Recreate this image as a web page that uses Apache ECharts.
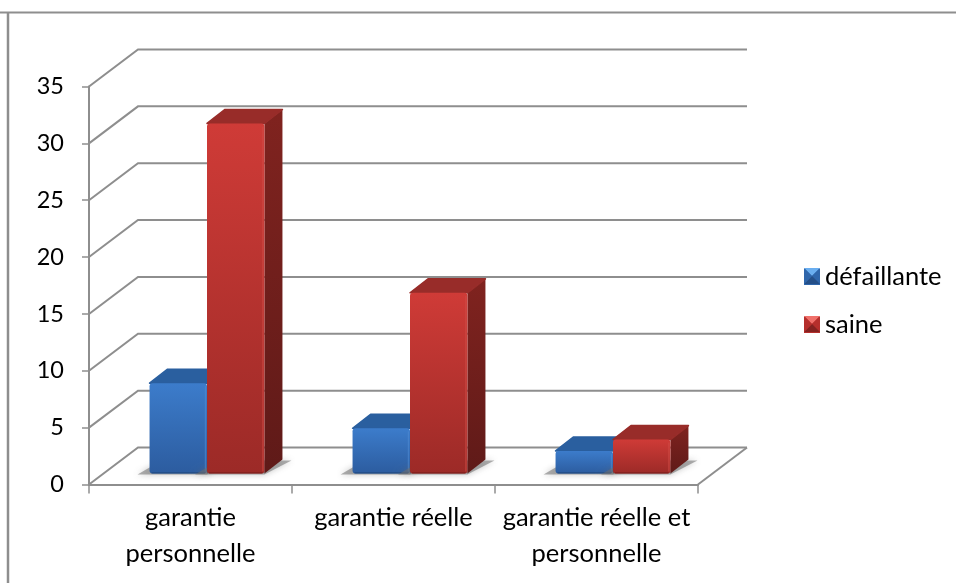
<!DOCTYPE html>
<html>
<head>
<meta charset="utf-8">
<style>html,body{margin:0;padding:0;background:#fff}#chart{width:956px;height:583px}</style>
<script src="https://cdn.jsdelivr.net/npm/echarts@6/dist/echarts.min.js"></script>
</head>
<body>
<div id="chart"></div>
<script>
// Guarantee types and the number of firms in each group
const categories = ['garantie\npersonnelle', 'garantie réelle', 'garantie réelle et\npersonnelle'];
const defaillante = [8, 4, 2];
const saine = [31, 16, 3];
const valueTicks = [0, 5, 10, 15, 20, 25, 30, 35];

// Oblique projection: how far the back wall and the bars sit behind the axis plane
const WALL_DX = 49, WALL_DY = -37;
const BAR_DX = 16.5, BAR_DY = -11;
const BAR_DEPTH_X = 18, BAR_DEPTH_Y = -14;
const BAR_BAND = 0.283;
const BAR_RISE = 0.993;   // foreshortening of heights in the bars' depth plane
const GRID_COLOR = '#8e8e8e';
const FONT = 'Lato';
const WORD_SIZE = 25.5;
const DIGIT_SIZE = 23.5;

const grad = (a, b) => ({ type: 'linear', x: 0, y: 0, x2: 0, y2: 1, colorStops: [{ offset: 0, color: a }, { offset: 1, color: b }] });

const palette = {
  blue: { front: ['#3c7ccb', '#2c5c9f'], top: '#2a5f9f', side: ['#234f86', '#1d4270'], edge: '#4f8ad2', dark: '#214a80' },
  red: { front: ['#cf3b37', '#9c2a27'], top: '#982c29', side: ['#80231f', '#5f1a18'], edge: '#d24d47', dark: '#7e201d' }
};

// Back wall and floor: one zig-zag grid line per value tick, plus the floor's right edge
function renderWall(params, api) {
  const v = api.value(0);
  const f = api.coord([0, v]);
  const band = api.size([1, 0])[0];
  const xLeft = f[0] - band / 2;
  const lineStyle = { stroke: GRID_COLOR, lineWidth: 2, fill: null };
  const children = [{
    type: 'polyline',
    shape: { points: [[xLeft, f[1]], [xLeft + WALL_DX, f[1] + WALL_DY], [xLeft + band * categories.length + WALL_DX, f[1] + WALL_DY]] },
    style: lineStyle
  }];
  if (v === 0) {
    const xRight = xLeft + band * categories.length;
    children.push({
      type: 'line',
      shape: { x1: xRight, y1: f[1], x2: xRight + WALL_DX, y2: f[1] + WALL_DY },
      style: lineStyle
    });
  }
  return { type: 'group', children };
}

// A bar drawn as a box: floor shadow, right face, top face and front face with soft edges
function boxRenderer(colors, seriesSide) {
  return function (params, api) {
    const cat = api.value(0);
    const top = api.coord([cat, api.value(1)]);
    const base = api.coord([cat, 0]);
    const band = api.size([1, 0])[0];
    const w = band * BAR_BAND;
    const cx = top[0] + BAR_DX;
    const x0 = seriesSide < 0 ? cx - w : cx;
    const x1 = x0 + w;
    const yB = base[1] + BAR_DY;
    const yT = yB - (base[1] - top[1]) * BAR_RISE;
    const dx = BAR_DEPTH_X, dy = BAR_DEPTH_Y;
    const children = [
      {
        type: 'polygon',
        shape: { points: [[x0 - 12, yB + 1], [x1, yB + 1], [x1 + dx + 9, yB + dy + 1], [x1, yB + dy + 1], [x0, yB - 6]] },
        style: { fill: 'rgba(110,110,110,0.55)', shadowBlur: 6, shadowColor: 'rgba(110,110,110,0.7)' }
      },
      {
        type: 'polygon',
        shape: { points: [[x1, yT], [x1 + dx, yT + dy], [x1 + dx, yB + dy], [x1, yB]] },
        style: { fill: grad(colors.side[0], colors.side[1]) }
      },
      {
        type: 'polygon',
        shape: { points: [[x0, yT], [x0 + dx, yT + dy], [x1 + dx, yT + dy], [x1, yT]] },
        style: { fill: colors.top, stroke: colors.top, lineWidth: 1.5, lineJoin: 'round' }
      },
      {
        type: 'rect',
        shape: { x: x0, y: yT, width: w, height: yB - yT, r: 3 },
        style: { fill: grad(colors.front[0], colors.front[1]) }
      },
      {
        type: 'line',
        shape: { x1: x1 - 1.5, y1: yT + 3, x2: x1 - 1.5, y2: yB - 2 },
        style: { stroke: colors.edge, lineWidth: 1.5, opacity: 0.6 }
      },
      {
        type: 'line',
        shape: { x1: x0 + 2, y1: yB - 0.8, x2: x1 - 2, y2: yB - 0.8 },
        style: { stroke: colors.dark, lineWidth: 1.5, opacity: 0.7 }
      }
    ];
    return { type: 'group', children };
  };
}

// Bevelled legend swatch: a shaded square with lit top and dark bottom facets
function swatch(x, y, s, colors) {
  const c = [x + s / 2, y + s / 2];
  const tri = (a, b, fill) => ({ type: 'polygon', z: 20, shape: { points: [a, b, c] }, style: { fill } });
  return [
    tri([x, y], [x + s, y], colors[0]),
    tri([x + s, y], [x + s, y + s], colors[1]),
    tri([x + s, y + s], [x, y + s], colors[2]),
    tri([x, y + s], [x, y], colors[1])
  ];
}

const chart = echarts.init(document.getElementById('chart'), null, { renderer: 'canvas' });
chart.setOption({
  animation: false,
  backgroundColor: '#fff',
  textStyle: { fontFamily: FONT },
  grid: { left: 89, right: 258, top: 86.5, bottom: 98.5, containLabel: false },
  legend: {
    orient: 'vertical',
    left: 804,
    top: 262,
    padding: 0,
    itemWidth: 16,
    itemHeight: 16,
    itemGap: 18,
    icon: 'rect',
    textStyle: { fontFamily: FONT, fontSize: WORD_SIZE, color: '#000', lineHeight: 30 },
    data: [
      { name: 'défaillante', itemStyle: { color: '#2f66ab' } },
      { name: 'saine', itemStyle: { color: '#b52f2c' } }
    ]
  },
  xAxis: {
    type: 'category',
    data: categories,
    axisLine: { lineStyle: { color: GRID_COLOR, width: 2 } },
    axisTick: { show: true, alignWithLabel: false, length: 9, lineStyle: { color: GRID_COLOR, width: 1.5 } },
    axisLabel: { color: '#000', fontFamily: FONT, fontSize: WORD_SIZE, lineHeight: 36, margin: 15, interval: 0 }
  },
  yAxis: {
    type: 'value',
    min: 0,
    max: 35,
    interval: 5,
    splitLine: { show: false },
    axisLine: { show: true, lineStyle: { color: GRID_COLOR, width: 2 } },
    axisTick: { show: true, length: 7, lineStyle: { color: GRID_COLOR, width: 1.5 } },
    axisLabel: { color: '#000', fontFamily: FONT, fontSize: DIGIT_SIZE, margin: 25 }
  },
  graphic: [
    { type: 'line', z: 0, shape: { x1: 0, y1: 12.5, x2: 956, y2: 12.5 }, style: { stroke: GRID_COLOR, lineWidth: 2 } },
    { type: 'line', z: 0, shape: { x1: 8, y1: 12, x2: 8, y2: 583 }, style: { stroke: GRID_COLOR, lineWidth: 2.5 } },
    ...swatch(804, 268, 16, ['#6aaef0', '#2f66ab', '#244f88']),
    ...swatch(804, 316, 16, ['#f0706a', '#b52f2c', '#842220'])
  ],
  series: [
    {
      type: 'custom',
      name: 'wall',
      silent: true,
      clip: false,
      z: 1,
      coordinateSystem: 'cartesian2d',
      encode: { y: 0 },
      data: valueTicks.map(v => [v]),
      renderItem: renderWall
    },
    {
      type: 'custom',
      name: 'défaillante',
      clip: false,
      z: 3,
      coordinateSystem: 'cartesian2d',
      encode: { x: 0, y: 1 },
      data: defaillante.map((v, i) => [i, v]),
      renderItem: boxRenderer(palette.blue, -1)
    },
    {
      type: 'custom',
      name: 'saine',
      clip: false,
      z: 4,
      coordinateSystem: 'cartesian2d',
      encode: { x: 0, y: 1 },
      data: saine.map((v, i) => [i, v]),
      renderItem: boxRenderer(palette.red, 1)
    }
  ]
});
</script>
</body>
</html>
